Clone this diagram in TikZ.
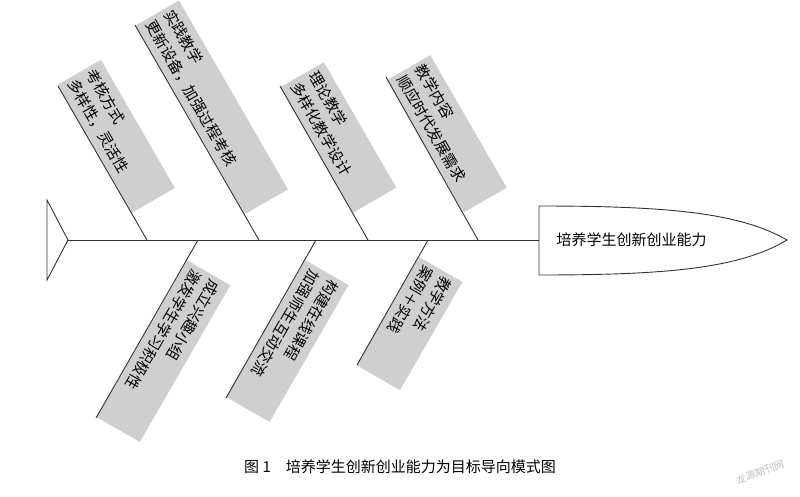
\documentclass[tikz,border=0pt]{standalone}
\usepackage{fontspec}
\setmainfont{Noto Sans CJK SC}
\begin{document}
\begin{tikzpicture}[x=1pt,y=-1pt,
  bone/.style={draw=black!80,line width=0.9pt},
  upbox/.style={fill=black!19,anchor=south,rotate=-60,align=left,font=\fontsize{15}{21}\selectfont,inner xsep=4pt,inner ysep=4pt,minimum height=50pt},
  lowbox/.style={fill=black!19,anchor=south,rotate=240,align=left,font=\fontsize{15}{21}\selectfont,inner xsep=4pt,inner ysep=4pt,minimum height=50pt}]
\useasboundingbox (0,0) rectangle (800,496);
% tail
\draw[bone] (47,200) -- (68,240) -- (47,280) -- cycle;
\coordinate (tail) at (68,240);
% head
\draw[bone] (539,206) -- (539,275) .. controls (670,275) and (740,268) .. (787,240) .. controls (740,213) and (670,206) .. (539,206) -- cycle;
\node[font=\fontsize{15}{18}\selectfont,anchor=west] (head) at (553,240) {培养学生创新创业能力};
\coordinate (spineend) at (539,240);
\draw[bone] (tail) -- (spineend);
% upper bones
\coordinate (b1) at (147,240); \coordinate (t1) at (58,86);
\coordinate (b2) at (259,240); \coordinate (t2) at (135,25);
\coordinate (b3) at (368,240); \coordinate (t3) at (280,86);
\coordinate (b4) at (478,240); \coordinate (t4) at (386,77);
\coordinate (b5) at (198,240); \coordinate (t5) at (96,418);
\coordinate (b6) at (316,240); \coordinate (t6) at (226,398);
\coordinate (b7) at (428,240); \coordinate (t7) at (357,365);
\node[upbox,text width=140pt] (n1) at (94.4,149) {考核方式\\多样性，灵活性};
\node[upbox,text width=210pt] (n2) at (190,120) {实践教学\\更新设备，加强过程考核};
\node[upbox,text width=137pt] (n3) at (316.6,150) {理论教学\\多样化教学设计};
\node[upbox,text width=145pt] (n4) at (425,146.5) {教学内容\\顺应时代发展需求};
\node[lowbox,text width=173pt] (n5) at (141.6,338.5) {成立兴趣小组\\激发学生学习积极性};
\node[lowbox,text width=150pt] (n6) at (265.6,328.5) {构建在线课程\\加强师生互动交流};
\node[lowbox,text width=117pt] (n7) at (387.7,311) {教学方法\\案例＋实践};
\foreach \i in {1,...,7} {\draw[bone] (b\i) -- (t\i);}
\node[font=\fontsize{15}{18}\selectfont] (cap) at (400,467) {图 1\quad 培养学生创新创业能力为目标导向模式图};
\node[font=\fontsize{10}{12}\selectfont,text=black!25,rotate=20] (wm) at (760,472) {龙源期刊网};
\end{tikzpicture}
\end{document}
